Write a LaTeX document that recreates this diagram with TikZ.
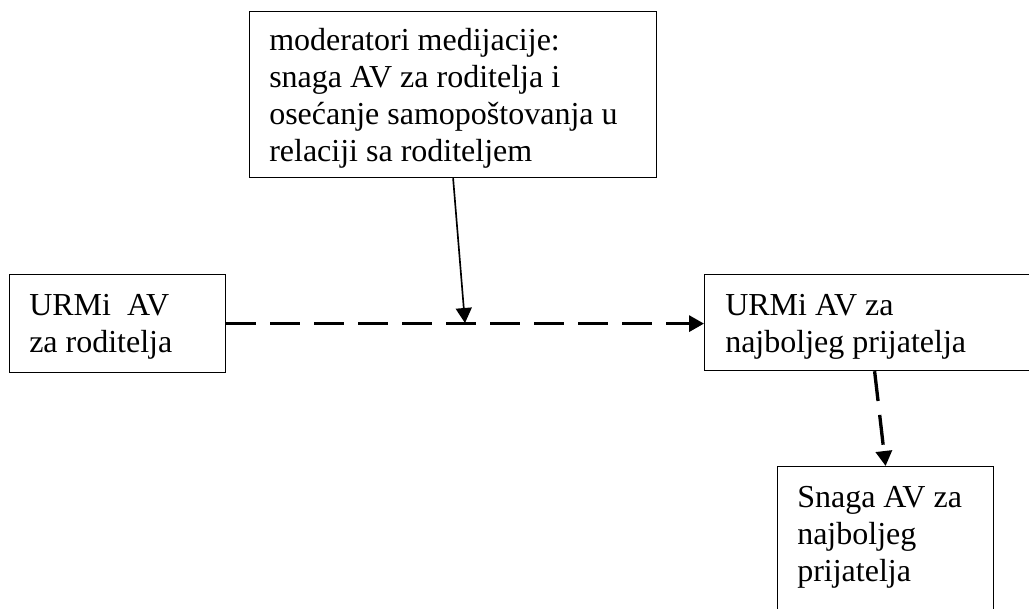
\documentclass[tikz,border=0pt]{standalone}
\usepackage{fontspec}
\setmainfont{Liberation Serif}
\usetikzlibrary{arrows.meta}
\begin{document}
\begin{tikzpicture}[x=0.75pt,y=-0.75pt,
  box/.style={draw=black,line width=0.9pt,rectangle,inner sep=0pt,anchor=north west},
  txt/.style={inner sep=0pt,anchor=base west,font=\fontsize{24}{27.75}\selectfont},
  dasharrow/.style={line width=2.5pt,dash pattern=on 22.5pt off 10.5pt,-{Triangle[length=11.25pt,width=12pt]}},
  thinarrow/.style={line width=1.25pt,-{Triangle[length=11.25pt,width=12pt]}}]
\useasboundingbox (0,0) rectangle (1029,608);
\clip (0,0) rectangle (1029,608);
\fill[white] (0,0) rectangle (1029,608);
% boxes
\node[box,minimum width=305.25pt,minimum height=124.5pt] (T) at (249,11) {};
\node[box,minimum width=162pt,minimum height=73.5pt] (L) at (9,274) {};
\node[box,minimum width=255pt,minimum height=72pt] (R) at (704,274) {};
\node[box,minimum width=162pt,minimum height=120pt] (B) at (777,466) {};
% texts
\node[txt] (Tt) at (269,50) {\parbox[t]{300pt}{moderatori medijacije:\\snaga AV za roditelja i\\osećanje samopoštovanja u\\relaciji sa roditeljem}};
\node[txt] (Lt) at (29,315) {\parbox[t]{150pt}{URMi\ \ AV\\za roditelja}};
\node[txt] (Rt) at (725,315) {\parbox[t]{240pt}{URMi AV za\\najboljeg prijatelja}};
\node[txt] (Bt) at (797,507) {\parbox[t]{150pt}{Snaga AV za\\najboljeg\\prijatelja}};
% connectors
\coordinate (m) at (465,323);
\draw[dasharrow] (L.east) -- (L.east -| R.west);
\draw[thinarrow] (T.south) -- (m);
\draw[dasharrow] (R.south) -- (B.north);
\end{tikzpicture}
\end{document}
